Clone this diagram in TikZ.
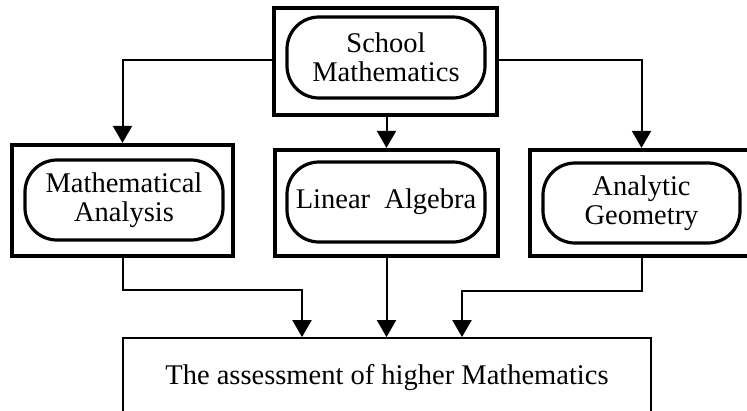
\documentclass[tikz,border=0pt]{standalone}
\usepackage{fontspec}
\setmainfont{Liberation Serif}
\usetikzlibrary{arrows.meta}
\begin{document}
\begin{tikzpicture}[x=1pt,y=-1pt,
  outerbox/.style={draw,line width=4.2pt,minimum width=223pt,minimum height=107pt,inner sep=0pt},
  innerbox/.style={draw,line width=3.2pt,rounded corners=32pt,minimum width=198pt,minimum height=80pt,inner sep=0pt,align=center,font=\fontsize{28.5}{29}\selectfont},
  conn/.style={line width=2pt,-{Triangle[length=17pt,width=19pt]}},
  bottombox/.style={draw,line width=1.8pt,minimum width=528pt,minimum height=80pt,inner sep=0pt,font=\fontsize{28.5}{29}\selectfont}]
\clip (0,0) rectangle (747,410);
% outer boxes
\node[outerbox] (topo) at (385.5,61.5) {};
\node[outerbox,minimum width=221pt,minimum height=111pt] (lefto) at (122.5,200.5) {};
\node[outerbox,minimum height=106pt] (mido) at (386.5,203) {};
\node[outerbox,minimum height=106pt] (righto) at (641.5,203) {};
% inner rounded boxes
\node[innerbox,minimum height=81pt] (topi) at (386,57.5) {School\\Mathematics};
\node[innerbox] (lefti) at (124,200) {Mathematical\\Analysis};
\node[innerbox] (midi) at (386,202) {Linear~~Algebra};
\node[innerbox,minimum width=197pt] (righti) at (641.5,203) {Analytic\\Geometry};
% bottom box
\node[bottombox] (bot) at (387,378) {The assessment of higher Mathematics};
% helper coordinates
\coordinate (lb) at (302,290);
\coordinate (rb) at (462,291);
% connectors
\draw[conn] (topo.west |- 0,60) -| (lefto.north);
\draw[conn] (topo.east |- 0,60) -| (righto.north);
\draw[conn] (topo.south -| mido.north) -- (mido.north);
\draw[conn] (lefto.south) |- (lb) -- (lb |- bot.north);
\draw[conn] (mido.south) -- (mido.south |- bot.north);
\draw[conn] (righto.south) |- (rb) -- (rb |- bot.north);
\end{tikzpicture}
\end{document}
